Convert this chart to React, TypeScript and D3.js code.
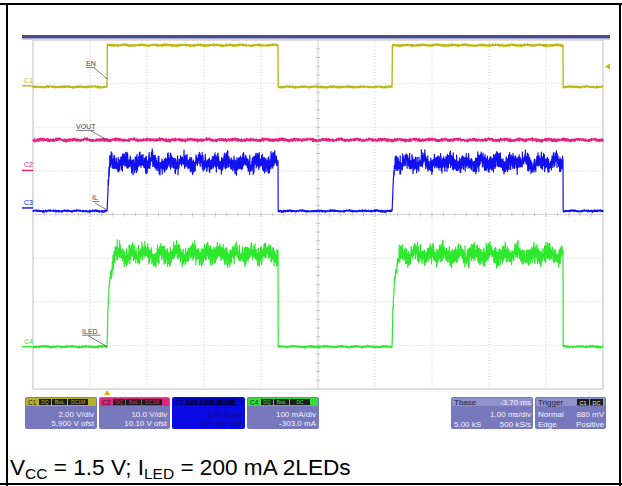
import React from "react";
import * as d3 from "d3";

const W = 622;
const H = 486;

// ---------- data ----------
// time base (ms): trigger at 0 ms, delay -3.70 ms, 1.00 ms/div, 10 divisions
const timeDomain = [-1.3, 8.7];
const segmentBreaks = [-1.3, 0.0, 3.0, 5.0, 8.0, 8.7];

const enLevels = [-0.05, 1.86, -0.05, 1.86, -0.05]; // V
const enNoise = [0.06, 0.07, 0.06, 0.07, 0.06];
const voutLevels = [7.0, 7.0, 7.0, 7.0, 7.0]; // V
const voutNoise = [0.55, 0.55, 0.55, 0.55, 0.55];
const ilLevels = [-0.07, 1.03, -0.07, 1.03, -0.07]; // A
const ilNoise = [0.035, 0.32, 0.035, 0.32, 0.035];
const iledLevels = [0.0, 0.211, 0.0, 0.211, 0.0]; // A
const iledNoise = [0.0035, 0.035, 0.0035, 0.035, 0.0035];

const enRiseT = [0, 0.005];
const enRiseF = [0, 1];
const ilRiseT = [0, 0.02, 0.05];
const ilRiseF = [0, 0.55, 1];
const iledRiseT = [0, 0.015, 0.04, 0.07, 0.1, 0.15];
const iledRiseF = [0, 0.43, 0.72, 0.79, 0.91, 1];

const chNames = ["C1", "C2", "C3", "C4"];
const chVdiv = [2.0, 10.0, 1.0, 0.1];
const chOfst = [5.9, 10.1, 0.15, -0.303];
const chColors = ["#bdb81a", "#e81e7a", "#1010f0", "#2ee82e"];
const traceLabels = ["EN", "VOUT", "IL", "ILED"];
const panelScale = ["2.00 V/div", "10.0 V/div", "1.00 A/div", "100 mA/div"];
const panelOfst = ["5.900 V ofst", "10.10 V ofst", "150 mA ofst", "-303.0 mA"];
const panelFlags = [
  ["DQ", "BwL", "DC1M"],
  ["DQ", "BwL", "DC1M"],
  ["DQ", "BwL", "DC"],
  ["DQ", "BwL", "DC"],
];
const tbaseText = ["Tbase", "-3.70 ms", "1.00 ms/div", "5.00 kS", "500 kS/s"];
const triggerText = ["Trigger", "C1", "DC", "Normal", "880 mV", "Edge", "Positive"];
const triggerLevel = 0.88; // V on C1

// hand-read ripple texture (normalised)
const rippleFast = [
  0.3, -0.6, 0.9, -0.2, -0.8, 0.5, 0.1, -0.4, 0.7, -0.9, 0.2, 0.6, -0.3, -0.7, 0.8, 0.0, -0.5, 0.4,
  -0.1, 0.95, -0.65, 0.25, -0.35, 0.55, -0.85, 0.15, 0.75, -0.45, 0.05, -0.25, 0.65, -0.75, 0.35,
  -0.15, 0.85, -0.55, 0.45, -0.95, 0.1, 0.5, -0.3, 0.7, -0.6, 0.2, -0.8, 0.9, -0.1, 0.4, -0.4, 0.6,
  -0.2, 0.3, -0.7,
];
const rippleMid = [
  -0.4, 0.7, 0.1, -0.9, 0.5, 0.3, -0.2, -0.6, 0.8, -0.1, 0.4, -0.7, 0.9, -0.3, 0.0, 0.6, -0.8, 0.2,
  -0.5, 0.75, -0.15, 0.35, -0.95, 0.55, 0.15, -0.65, 0.85, -0.35, 0.45, -0.05, -0.75, 0.65, 0.25,
  -0.45, 0.95, -0.25, 0.05, -0.85, 0.5, -0.6, 0.3, 0.7, -0.1, -0.4, 0.9, -0.7, 0.2,
];
const rippleSlow = [
  0.2, 0.5, 0.1, -0.3, -0.6, -0.2, 0.4, 0.7, 0.3, -0.1, -0.5, -0.4, 0.0, 0.6, 0.8, 0.2, -0.3, -0.7,
  -0.2, 0.3, 0.5, 0.1, -0.4, -0.1, 0.4, 0.9, 0.3, -0.2, -0.6, -0.8, -0.1,
];

// ---------- layout ----------
const GX0 = 33, GX1 = 603, GY0 = 40, GY1 = 389;
const x = d3.scaleLinear().domain(timeDomain).range([GX0, GX1]);
const yDiv = d3.scaleLinear().domain([-4, 4]).range([GY1, GY0]);
const chY = (ch: number, v: number) => yDiv((v + chOfst[ch]) / chVdiv[ch]);

const SAMPLES = 2850;

function ripple(i: number, k: number) {
  const j = i + k * 37;
  const f = rippleFast[j % rippleFast.length];
  const m = rippleMid[(j * 7 + k * 11) % rippleMid.length];
  const sp = j / 12;
  const s0 = Math.floor(sp) % rippleSlow.length;
  const s1 = (s0 + 1) % rippleSlow.length;
  const fr = sp - Math.floor(sp);
  const s = rippleSlow[s0] * (1 - fr) + rippleSlow[s1] * fr;
  return 0.42 * f + 0.38 * m + 0.38 * s;
}

function interp(ts: number[], fs: number[], t: number) {
  for (let k = 1; k < ts.length; k++) {
    if (t <= ts[k]) {
      const a = (t - ts[k - 1]) / (ts[k] - ts[k - 1]);
      return fs[k - 1] + (fs[k] - fs[k - 1]) * a;
    }
  }
  return fs[fs.length - 1];
}

function buildTrace(ch: number, levels: number[], noise: number[], riseT: number[] | null, riseF: number[] | null) {
  const pts: [number, number][] = [];
  const span = timeDomain[1] - timeDomain[0];
  for (let i = 0; i <= SAMPLES; i++) {
    const t = timeDomain[0] + (i * span) / SAMPLES;
    let s = 0;
    while (s < levels.length - 1 && t >= segmentBreaks[s + 1]) s++;
    let v = levels[s];
    let amp = noise[s];
    if (s > 0 && riseT && riseF && levels[s] > levels[s - 1]) {
      const dt = t - segmentBreaks[s];
      if (dt < riseT[riseT.length - 1]) {
        const f = interp(riseT, riseF, dt);
        v = levels[s - 1] + (levels[s] - levels[s - 1]) * f;
        amp = noise[s - 1] + (noise[s] - noise[s - 1]) * f;
      }
    }
    pts.push([x(t), chY(ch, v + amp * ripple(i, ch))]);
  }
  return d3.line()(pts) || "";
}

const traces = [
  { ch: 0, d: buildTrace(0, enLevels, enNoise, enRiseT, enRiseF), w: 1.4 },
  { ch: 1, d: buildTrace(1, voutLevels, voutNoise, null, null), w: 1.2 },
  { ch: 2, d: buildTrace(2, ilLevels, ilNoise, ilRiseT, ilRiseF), w: 1.2 },
  { ch: 3, d: buildTrace(3, iledLevels, iledNoise, iledRiseT, iledRiseF), w: 1.2 },
];

const FONT = "'Liberation Sans', Arial, Helvetica, sans-serif";

function Grid() {
  const els: React.ReactNode[] = [];
  const dx = (GX1 - GX0) / 10;
  const dy = (GY1 - GY0) / 8;
  for (let i = 1; i < 10; i++) {
    const xx = GX0 + i * dx;
    els.push(<line key={"v" + i} x1={xx} x2={xx} y1={GY0} y2={GY1} stroke="#c4c4c4" strokeWidth={0.8} strokeDasharray="1 2.2" />);
  }
  for (let j = 1; j < 8; j++) {
    const yy = GY0 + j * dy;
    els.push(<line key={"h" + j} x1={GX0} x2={GX1} y1={yy} y2={yy} stroke="#c4c4c4" strokeWidth={0.8} strokeDasharray="1 2.2" />);
  }
  const cx = (GX0 + GX1) / 2;
  const cy = (GY0 + GY1) / 2;
  for (let i = 1; i < 50; i++) {
    const xx = GX0 + (i * dx) / 5;
    els.push(<line key={"tx" + i} x1={xx} x2={xx} y1={cy - 2} y2={cy + 2} stroke="#b4b4b4" strokeWidth={0.8} />);
  }
  for (let j = 1; j < 40; j++) {
    const yy = GY0 + (j * dy) / 5;
    els.push(<line key={"ty" + j} x1={cx - 2} x2={cx + 2} y1={yy} y2={yy} stroke="#b4b4b4" strokeWidth={0.8} />);
  }
  els.push(<line key="cx" x1={cx} x2={cx} y1={GY0} y2={GY1} stroke="#c8c8c8" strokeWidth={0.7} />);
  els.push(<line key="cy" x1={GX0} x2={GX1} y1={cy} y2={cy} stroke="#c8c8c8" strokeWidth={0.7} />);
  els.push(<rect key="b" x={GX0} y={GY0} width={GX1 - GX0} height={GY1 - GY0} fill="none" stroke="#d6d6d6" strokeWidth={1.6} />);
  return <g>{els}</g>;
}

function ChannelPanel({ i, px, w }: { i: number; px: number; w: number }) {
  const py = 397, ph = 32;
  const isBlue = i === 2;
  const bg = isBlue ? "#0a0ae6" : "#7878bc";
  const txt = isBlue ? "#0a0a80" : "#f2f2ff";
  const boxW = [12, 15, 20];
  let bx = px + 14;
  return (
    <g fontFamily={FONT}>
      <rect x={px} y={py} width={w} height={ph} rx={2} fill={bg} />
      <rect x={px + 1} y={py + 1} width={w - 2} height={8} rx={1} fill={isBlue ? "#0606c8" : chColors[i]} opacity={isBlue ? 1 : 0.9} />
      <text x={px + 3} y={py + 7.5} fontSize={6.5} fill={isBlue ? "#000060" : "#202020"}>{chNames[i]}</text>
      {panelFlags[i].map((f, k) => {
        const bw = boxW[k];
        const el = (
          <g key={k}>
            <rect x={bx} y={py + 2} width={bw} height={6} fill={isBlue ? "#000050" : "#1c1c1c"} />
            <text x={bx + bw / 2} y={py + 7} fontSize={5} textAnchor="middle" fill={isBlue ? "#0606c8" : chColors[i]}>{f}</text>
          </g>
        );
        bx += bw + 1;
        return el;
      })}
      <text x={px + w - 3} y={py + 19.5} fontSize={8} textAnchor="end" fill={txt}>{panelScale[i]}</text>
      <text x={px + w - 3} y={py + 29} fontSize={8} textAnchor="end" fill={txt}>{panelOfst[i]}</text>
    </g>
  );
}

export default function App() {
  const x0 = x(0);
  const lowY = [chY(0, enLevels[0]), chY(1, voutLevels[0]), chY(2, ilLevels[0]), chY(3, iledLevels[0])];
  const markerY = [0, 1, 2, 3].map((c) => chY(c, 0));
  // annotation geometry relative to rising edge
  const ann = [
    { tx: x0 - 21, ty: lowY[0] - 21, lx1: x0 - 13, ly1: lowY[0] - 19, lx2: x0, ly2: lowY[0] - 8 },
    { tx: x0 - 31, ty: lowY[1] - 11, lx1: x0 - 16, ly1: lowY[1] - 9, lx2: x0, ly2: lowY[1] },
    { tx: x0 - 15, ty: lowY[2] - 11, lx1: x0 - 12, ly1: lowY[2] - 8, lx2: x0, ly2: lowY[2] - 1 },
    { tx: x0 - 25, ty: lowY[3] - 13, lx1: x0 - 19, ly1: lowY[3] - 11, lx2: x0, ly2: lowY[3] },
  ];
  const trigY = chY(0, triggerLevel);
  return (
    <svg width={W} height={H} viewBox={`0 0 ${W} ${H}`} style={{ display: "block", position: "absolute", left: 0, top: 0, background: "#fff" }}>
      <rect width={W} height={H} fill="#fff" />
      {/* outer table frame */}
      <line x1={0} x2={W} y1={4} y2={4} stroke="#000" strokeWidth={2} />
      <line x1={7} x2={7} y1={3} y2={H} stroke="#000" strokeWidth={2} />
      <line x1={620} x2={620} y1={3} y2={H} stroke="#000" strokeWidth={2} />
      <line x1={0} x2={W} y1={484} y2={484} stroke="#000" strokeWidth={2} />

      {/* scope title bar */}
      <rect x={22} y={35} width={588} height={3.5} fill="#4a4a8c" />
      <rect x={22} y={38.5} width={588} height={1} fill="#a8a8d0" />

      <Grid />

      {/* traces */}
      {traces.map((tr) => (
        <path key={tr.ch} d={tr.d} fill="none" stroke={chColors[tr.ch]} strokeWidth={tr.w} strokeLinejoin="round" />
      ))}

      {/* channel markers */}
      {markerY.map((my, c) => (
        <g key={c} fontFamily={FONT}>
          <line x1={22} x2={GX0} y1={my} y2={my} stroke={chColors[c]} strokeWidth={1.4} />
          <text x={24} y={my - 3} fontSize={7} fill={chColors[c]}>{chNames[c]}</text>
        </g>
      ))}

      {/* trace annotations */}
      {ann.map((a, c) => {
        const tw = traceLabels[c].length * 4.6 + (traceLabels[c] === "IL" ? -2 : 0);
        return (
          <g key={c} fontFamily={FONT}>
            <text x={a.tx} y={a.ty} fontSize={7} fill="#444">{traceLabels[c]}</text>
            <line x1={a.tx} x2={a.tx + tw} y1={a.ty + 1.5} y2={a.ty + 1.5} stroke="#444" strokeWidth={0.7} />
            <line x1={a.lx1} y1={a.ly1} x2={a.lx2} y2={a.ly2} stroke="#444" strokeWidth={0.7} />
          </g>
        );
      })}

      {/* trigger markers */}
      <path d={`M${GX1 + 2},${trigY} L${GX1 + 7},${trigY - 3} L${GX1 + 7},${trigY + 3} Z`} fill="#c8b800" />
      <path d={`M${x0},${GY1 + 1} L${x0 - 3},${GY1 + 6} L${x0 + 3},${GY1 + 6} Z`} fill="#c8b800" />

      {/* channel panels */}
      <ChannelPanel i={0} px={25} w={72} />
      <ChannelPanel i={1} px={99} w={71} />
      <ChannelPanel i={2} px={172} w={73} />
      <ChannelPanel i={3} px={247} w={72} />

      {/* timebase panel */}
      <g fontFamily={FONT} fontSize={8}>
        <rect x={451} y={397} width={82} height={32} rx={2} fill="#7878bc" />
        <rect x={452} y={398} width={80} height={8} rx={1} fill="#9090cc" />
        <text x={454} y={405} fill="#1e1e40">{tbaseText[0]}</text>
        <text x={531} y={405} textAnchor="end" fill="#f2f2ff">{tbaseText[1]}</text>
        <text x={531} y={416.5} textAnchor="end" fill="#f2f2ff">{tbaseText[2]}</text>
        <text x={454} y={426.5} fill="#f2f2ff">{tbaseText[3]}</text>
        <text x={531} y={426.5} textAnchor="end" fill="#f2f2ff">{tbaseText[4]}</text>

        <rect x={535} y={397} width={71} height={32} rx={2} fill="#7878bc" />
        <rect x={536} y={398} width={69} height={8} rx={1} fill="#9090cc" />
        <text x={538} y={405} fill="#1e1e40">{triggerText[0]}</text>
        <rect x={577} y={399} width={12} height={6.5} fill="#1c1c1c" />
        <text x={583} y={404.5} fontSize={5.5} textAnchor="middle" fill="#f0f0f0">{triggerText[1]}</text>
        <rect x={590} y={399} width={13} height={6.5} fill="#1c1c1c" />
        <text x={596.5} y={404.5} fontSize={5.5} textAnchor="middle" fill="#f0f0f0">{triggerText[2]}</text>
        <text x={538} y={416.5} fill="#f2f2ff">{triggerText[3]}</text>
        <text x={604} y={416.5} textAnchor="end" fill="#f2f2ff">{triggerText[4]}</text>
        <text x={538} y={426.5} fill="#f2f2ff">{triggerText[5]}</text>
        <text x={604} y={426.5} textAnchor="end" fill="#f2f2ff">{triggerText[6]}</text>
      </g>

      {/* caption */}
      <text x={10} y={475} fontFamily={FONT} fontSize={22.6} fill="#000">
        <tspan>V</tspan>
        <tspan fontSize={15.5} dy={4}>CC</tspan>
        <tspan dy={-4}> = 1.5 V; I</tspan>
        <tspan fontSize={15.5} dy={4}>LED</tspan>
        <tspan dy={-4}> = 200 mA 2LEDs</tspan>
      </text>
    </svg>
  );
}
